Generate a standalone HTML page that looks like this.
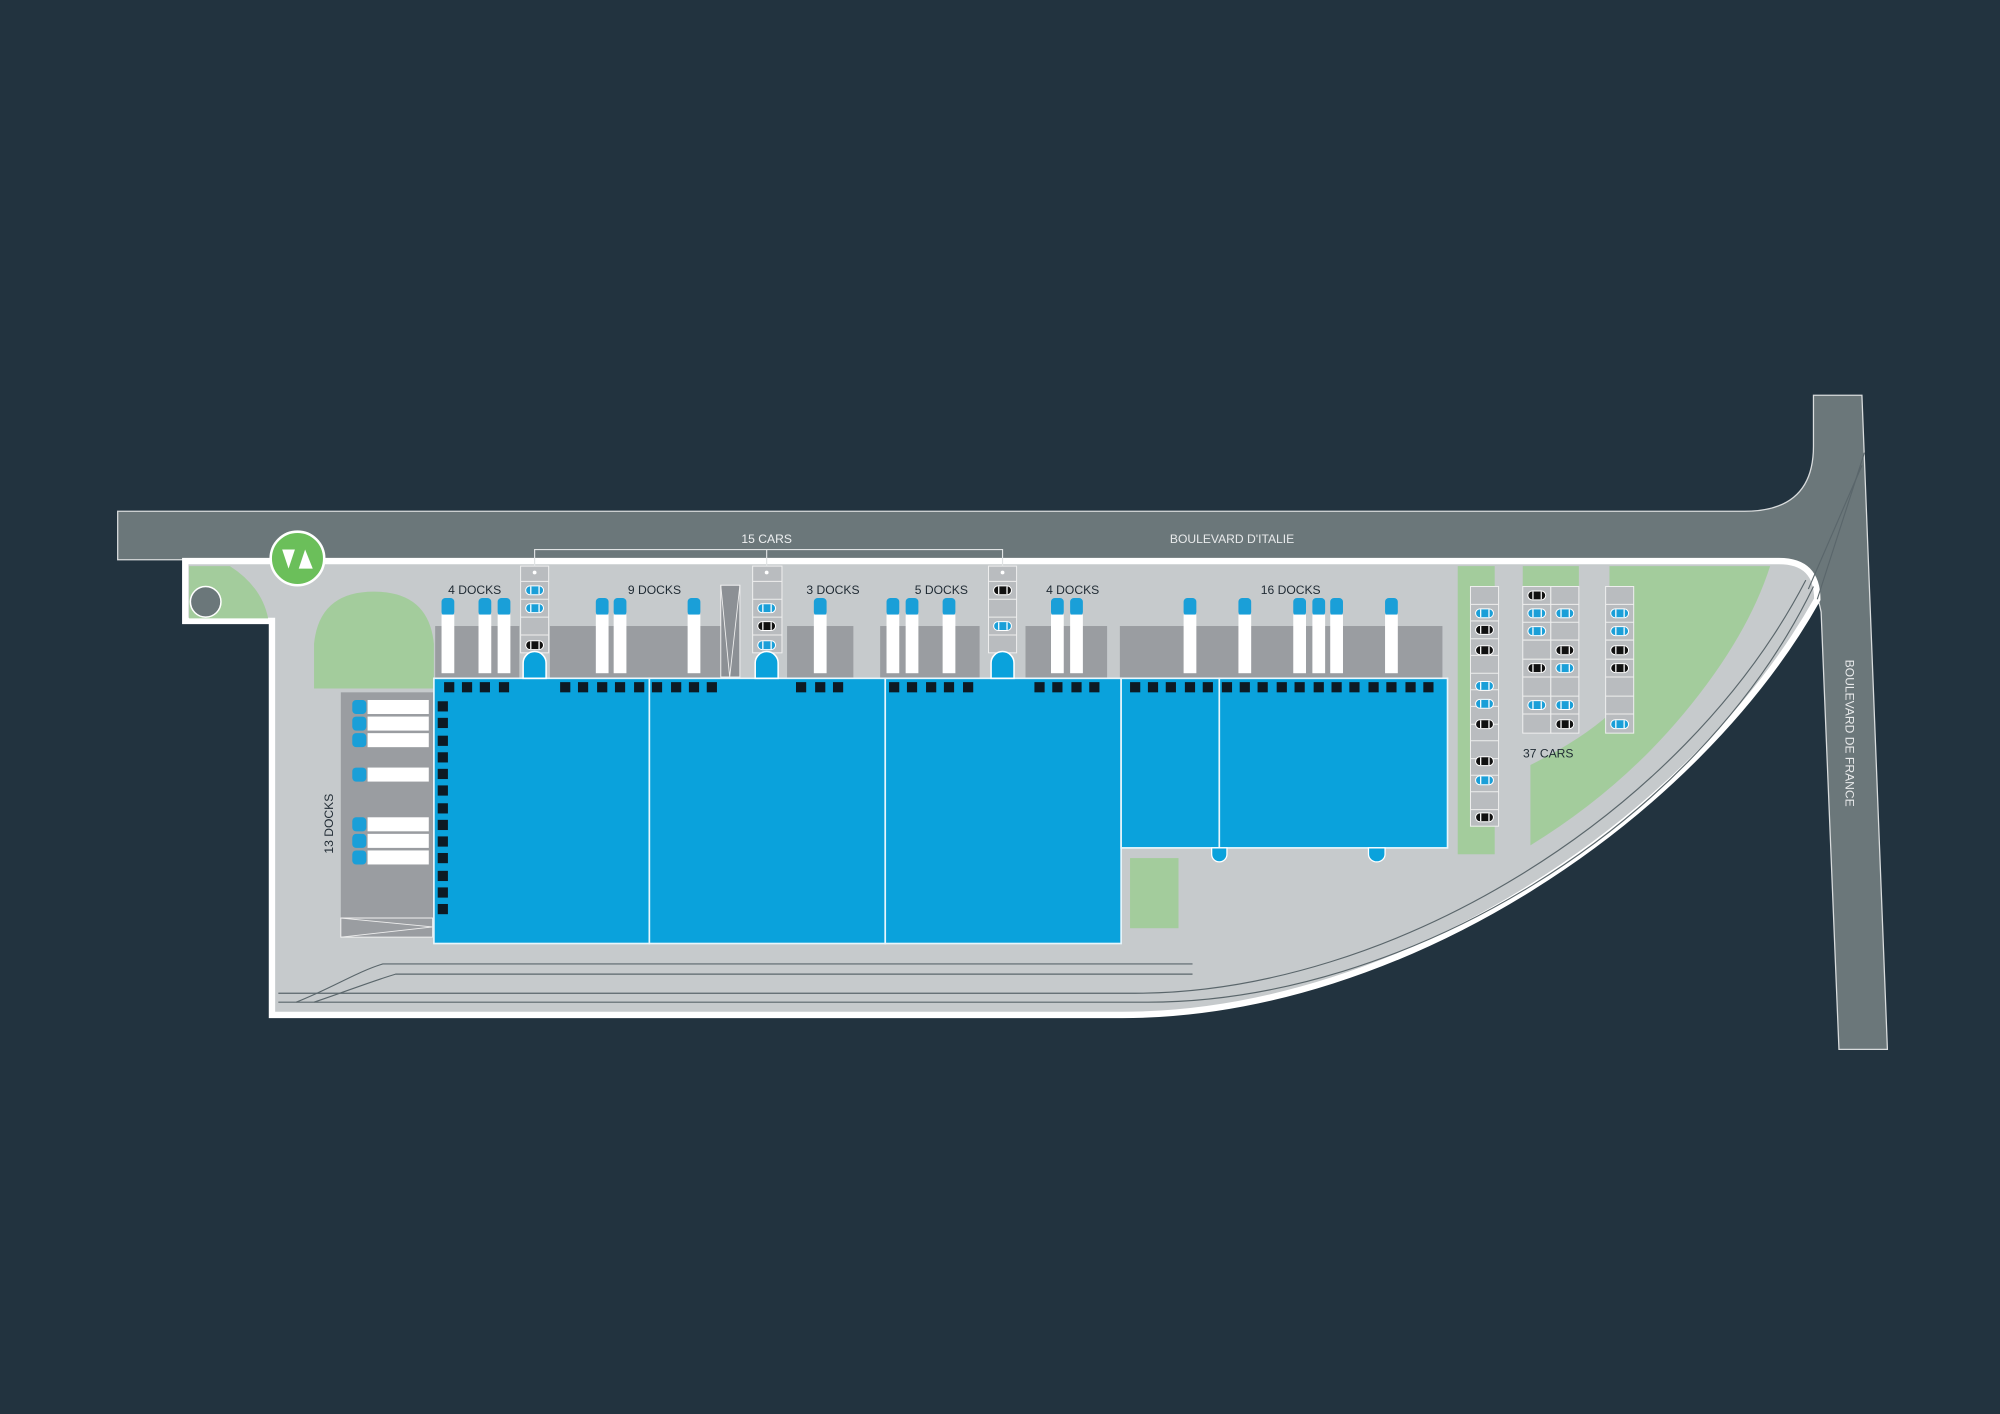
<!DOCTYPE html>
<html><head><meta charset="utf-8"><style>html,body{margin:0;padding:0;background:#22333f}svg{display:block}</style></head>
<body>
<svg width="2000" height="1414" viewBox="0 0 1568 1109" xmlns="http://www.w3.org/2000/svg" font-family="Liberation Sans, sans-serif">
<defs>
<g id="cb"><rect x="-7" y="-3.5" width="14" height="7" rx="3.5" fill="#1a9fd8" stroke="#fff" stroke-width="0.8"/><line x1="-3" y1="-3" x2="-3" y2="3" stroke="#fff" stroke-width="1"/><line x1="3.5" y1="-3" x2="3.5" y2="3" stroke="#fff" stroke-width="1"/></g>
<g id="ck"><rect x="-7" y="-3.5" width="14" height="7" rx="3.5" fill="#111" stroke="#fff" stroke-width="0.8"/><line x1="-3" y1="-3" x2="-3" y2="3" stroke="#fff" stroke-width="1"/><line x1="3.5" y1="-3" x2="3.5" y2="3" stroke="#fff" stroke-width="1"/></g>
<g id="tr"><rect x="-5" y="-13" width="10" height="14" rx="3" fill="#1a9fd8"/><rect x="-5" y="0" width="10" height="46" fill="#fff"/></g>
<rect id="sq" x="-4" y="-4" width="8" height="8" fill="#0d1a24"/>
</defs>
<rect width="1568" height="1109" fill="#22333f"/>
<!-- roads -->
<path d="M92 401 H1368 Q1422 401 1422 350 V310 H1460 L1480 823 H1442 L1428 480 Q1420 439 1390 439 H92 Z" fill="#6b777a" stroke="#d9dcdd" stroke-width="1"/>
<text x="966" y="426" font-size="9.5" fill="#e8eaeb" text-anchor="middle">BOULEVARD D'ITALIE</text>
<text x="0" y="0" font-size="9.5" fill="#e8eaeb" text-anchor="middle" transform="translate(1447,575) rotate(90)">BOULEVARD DE FRANCE</text>
<!-- site -->
<path d="M145 440 H1395 Q1425 440 1425 470 C1330 640 1100 796 880 796 H213 V487 H145 Z" fill="#c6cacc" stroke="#fff" stroke-width="5"/>
<!-- rails -->
<g fill="none" stroke="#5a666b" stroke-width="0.9">
<path d="M218 786 H900 C1100 786 1330 650 1422 460"/>
<path d="M218 779 H890 C1090 779 1320 640 1416 455"/>
<path d="M232 786 C260 775 280 762 300 756 H935"/>
<path d="M246 786 C270 778 290 770 310 764 H935"/>
<path d="M1425 470 L1462 355"/>
<path d="M1418 462 L1460 365"/>
</g>
<!-- greens -->
<g fill="#a3cc9c">
<path d="M148 444 H180 Q205 460 210 485 H148 Z"/>
<path d="M246 540 V505 Q250 464 293 464 Q336 464 340 505 V540 Z"/>
<rect x="886" y="673" width="38" height="55"/>
<rect x="1143" y="444" width="29" height="226"/>
<rect x="1194" y="444" width="44" height="16"/>
<path d="M1262 444 H1388 Q1370 500 1320 560 Q1270 620 1200 663 V600 Q1240 580 1262 560 Z"/>
</g>
<circle cx="161" cy="472" r="12" fill="#6b777a" stroke="#fff" stroke-width="1.2"/>
<!-- dark grey dock zones -->
<g fill="#9a9da1">
<rect x="341" y="491" width="66" height="41"/>
<rect x="431" y="491" width="139" height="41"/>
<rect x="617" y="491" width="52" height="41"/>
<rect x="690" y="491" width="78" height="41"/>
<rect x="804" y="491" width="64" height="41"/>
<rect x="878" y="491" width="253" height="41"/>
<rect x="267" y="543" width="74" height="192"/>
</g>
<rect x="267" y="720" width="72" height="15" fill="#9a9da1" stroke="#eee" stroke-width="0.8"/>
<path d="M267 720 L339 727 L267 735" fill="none" stroke="#eee" stroke-width="0.7"/>
<rect x="565" y="459" width="15" height="72" fill="#8c9095" stroke="#eee" stroke-width="0.8"/>
<path d="M565 459 L572 531 L580 459" fill="none" stroke="#eee" stroke-width="0.7"/>
<!-- trucks -->
<g>
<use href="#tr" x="351" y="482"/><use href="#tr" x="380" y="482"/><use href="#tr" x="395" y="482"/>
<use href="#tr" x="472" y="482"/><use href="#tr" x="486" y="482"/><use href="#tr" x="544" y="482"/>
<use href="#tr" x="643" y="482"/>
<use href="#tr" x="700" y="482"/><use href="#tr" x="715" y="482"/><use href="#tr" x="744" y="482"/>
<use href="#tr" x="829" y="482"/><use href="#tr" x="844" y="482"/>
<use href="#tr" x="933" y="482"/><use href="#tr" x="976" y="482"/><use href="#tr" x="1019" y="482"/><use href="#tr" x="1034" y="482"/><use href="#tr" x="1048" y="482"/><use href="#tr" x="1091" y="482"/>
</g>
<!-- left horizontal trucks -->
<g>
<g fill="#fff"><rect x="288" y="549" width="48" height="11"/><rect x="288" y="562" width="48" height="11"/><rect x="288" y="575" width="48" height="11"/><rect x="288" y="602" width="48" height="11"/><rect x="288" y="641" width="48" height="11"/><rect x="288" y="654" width="48" height="11"/><rect x="288" y="667" width="48" height="11"/></g>
<g fill="#1a9fd8"><rect x="276" y="549" width="11" height="11" rx="3"/><rect x="276" y="562" width="11" height="11" rx="3"/><rect x="276" y="575" width="11" height="11" rx="3"/><rect x="276" y="602" width="11" height="11" rx="3"/><rect x="276" y="641" width="11" height="11" rx="3"/><rect x="276" y="654" width="11" height="11" rx="3"/><rect x="276" y="667" width="11" height="11" rx="3"/></g>
</g>
<!-- buildings -->
<g fill="#0aa2dc" stroke="#e8f6fc" stroke-width="1.3">
<rect x="340" y="532" width="169" height="208"/>
<rect x="509" y="532" width="185" height="208"/>
<rect x="694" y="532" width="185" height="208"/>
<rect x="879" y="532" width="77" height="133"/>
<rect x="956" y="532" width="179" height="133"/>
</g>
<path d="M950 665 h12 v5 a6 6 0 0 1 -12 0 Z M1073 665 h13 v5 a6.5 6 0 0 1 -13 0 Z" fill="#0aa2dc" stroke="#fff" stroke-width="1"/>
<!-- dark squares -->
<g>
<use href="#sq" x="352" y="539"/><use href="#sq" x="366" y="539"/><use href="#sq" x="380" y="539"/><use href="#sq" x="395" y="539"/>
<use href="#sq" x="443" y="539"/><use href="#sq" x="457" y="539"/><use href="#sq" x="472" y="539"/><use href="#sq" x="486" y="539"/><use href="#sq" x="501" y="539"/><use href="#sq" x="515" y="539"/><use href="#sq" x="530" y="539"/><use href="#sq" x="544" y="539"/><use href="#sq" x="558" y="539"/>
<use href="#sq" x="628" y="539"/><use href="#sq" x="643" y="539"/><use href="#sq" x="657" y="539"/>
<use href="#sq" x="701" y="539"/><use href="#sq" x="715" y="539"/><use href="#sq" x="730" y="539"/><use href="#sq" x="744" y="539"/><use href="#sq" x="759" y="539"/>
<use href="#sq" x="815" y="539"/><use href="#sq" x="829" y="539"/><use href="#sq" x="844" y="539"/><use href="#sq" x="858" y="539"/>
<use href="#sq" x="890" y="539"/><use href="#sq" x="904" y="539"/><use href="#sq" x="918" y="539"/><use href="#sq" x="933" y="539"/><use href="#sq" x="947" y="539"/><use href="#sq" x="962" y="539"/><use href="#sq" x="976" y="539"/><use href="#sq" x="990" y="539"/><use href="#sq" x="1005" y="539"/><use href="#sq" x="1019" y="539"/><use href="#sq" x="1034" y="539"/><use href="#sq" x="1048" y="539"/><use href="#sq" x="1062" y="539"/><use href="#sq" x="1077" y="539"/><use href="#sq" x="1091" y="539"/><use href="#sq" x="1106" y="539"/><use href="#sq" x="1120" y="539"/>
<use href="#sq" x="347" y="554"/><use href="#sq" x="347" y="567"/><use href="#sq" x="347" y="581"/><use href="#sq" x="347" y="594"/><use href="#sq" x="347" y="607"/><use href="#sq" x="347" y="620"/><use href="#sq" x="347" y="634"/><use href="#sq" x="347" y="647"/><use href="#sq" x="347" y="660"/><use href="#sq" x="347" y="673"/><use href="#sq" x="347" y="687"/><use href="#sq" x="347" y="700"/><use href="#sq" x="347" y="713"/>
</g>
<!-- 15 cars columns -->
<g fill="#b9bcbf" stroke="#eee" stroke-width="0.8">
<rect x="408" y="444" width="22" height="68"/><rect x="590" y="444" width="23" height="68"/><rect x="775" y="444" width="22" height="68"/>
</g>
<g stroke="#eee" stroke-width="0.8">
<path d="M408 456H430M408 470H430M408 484H430M408 498H430"/>
<path d="M590 456H613M590 470H613M590 484H613M590 498H613"/>
<path d="M775 456H797M775 470H797M775 484H797M775 498H797"/>
</g>
<g fill="#fff"><circle cx="419" cy="449" r="1.5"/><circle cx="601" cy="449" r="1.5"/><circle cx="786" cy="449" r="1.5"/></g>
<path d="M410 532 V520 a9 9 0 0 1 18 0 V532 Z M592 532 V520 a9 9 0 0 1 18 0 V532 Z M777 532 V520 a9 9 0 0 1 18 0 V532 Z" fill="#0aa2dc" stroke="#fff" stroke-width="1.2"/>
<use href="#cb" x="419" y="463"/><use href="#cb" x="419" y="477"/><use href="#ck" x="419" y="506"/>
<use href="#cb" x="601" y="477"/><use href="#ck" x="601" y="491"/><use href="#cb" x="601" y="506"/>
<use href="#ck" x="786" y="463"/><use href="#cb" x="786" y="491"/>
<path d="M419 444 V431 H786 V444 M601 431 V444" fill="none" stroke="#e0e3e4" stroke-width="0.9"/>
<text x="601" y="426" font-size="9.5" fill="#eef0f1" text-anchor="middle">15 CARS</text>
<!-- right parking -->
<g fill="#b9bcbf" stroke="#eee" stroke-width="0.8">
<rect x="1153" y="460" width="22" height="188"/>
<rect x="1194" y="460" width="22" height="115"/><rect x="1216" y="460" width="22" height="115"/>
<rect x="1259" y="460" width="22" height="115"/>
</g>
<g stroke="#eee" stroke-width="0.8">
<path d="M1153 474H1175M1153 487H1175M1153 501H1175M1153 514H1175M1153 528H1175M1153 541H1175M1153 554H1175M1153 568H1175M1153 581H1175M1153 595H1175M1153 608H1175M1153 621H1175M1153 635H1175"/>
<path d="M1194 474H1238M1194 488H1238M1194 502H1238M1194 517H1238M1194 531H1238M1194 546H1238M1194 560H1238"/>
<path d="M1259 474H1281M1259 488H1281M1259 502H1281M1259 517H1281M1259 531H1281M1259 546H1281M1259 560H1281"/>
</g>
<use href="#cb" x="1164" y="481"/><use href="#ck" x="1164" y="494"/><use href="#ck" x="1164" y="510"/><use href="#cb" x="1164" y="538"/><use href="#cb" x="1164" y="552"/><use href="#ck" x="1164" y="568"/><use href="#ck" x="1164" y="597"/><use href="#cb" x="1164" y="612"/><use href="#ck" x="1164" y="641"/>
<use href="#ck" x="1205" y="467"/><use href="#cb" x="1205" y="481"/><use href="#cb" x="1227" y="481"/><use href="#cb" x="1205" y="495"/><use href="#ck" x="1227" y="510"/><use href="#ck" x="1205" y="524"/><use href="#cb" x="1227" y="524"/><use href="#cb" x="1205" y="553"/><use href="#cb" x="1227" y="553"/><use href="#ck" x="1227" y="568"/>
<use href="#cb" x="1270" y="481"/><use href="#cb" x="1270" y="495"/><use href="#ck" x="1270" y="510"/><use href="#ck" x="1270" y="524"/><use href="#cb" x="1270" y="568"/>
<!-- labels -->
<g font-size="9.5" fill="#1f2a33" text-anchor="middle">
<text x="372" y="466">4 DOCKS</text>
<text x="513" y="466">9 DOCKS</text>
<text x="653" y="466">3 DOCKS</text>
<text x="738" y="466">5 DOCKS</text>
<text x="841" y="466">4 DOCKS</text>
<text x="1012" y="466">16 DOCKS</text>
<text x="1214" y="594">37 CARS</text>
<text transform="translate(261,646) rotate(-90)">13 DOCKS</text>
</g>
<!-- logo -->
<circle cx="233" cy="438" r="21" fill="#6bbf5a" stroke="#fff" stroke-width="2"/>
<path d="M221 431 L231 431 L226 446 Z" fill="#fff"/>
<path d="M234 446 L239 431 L245 446 Z" fill="#fff"/>
</svg>
</body></html>
